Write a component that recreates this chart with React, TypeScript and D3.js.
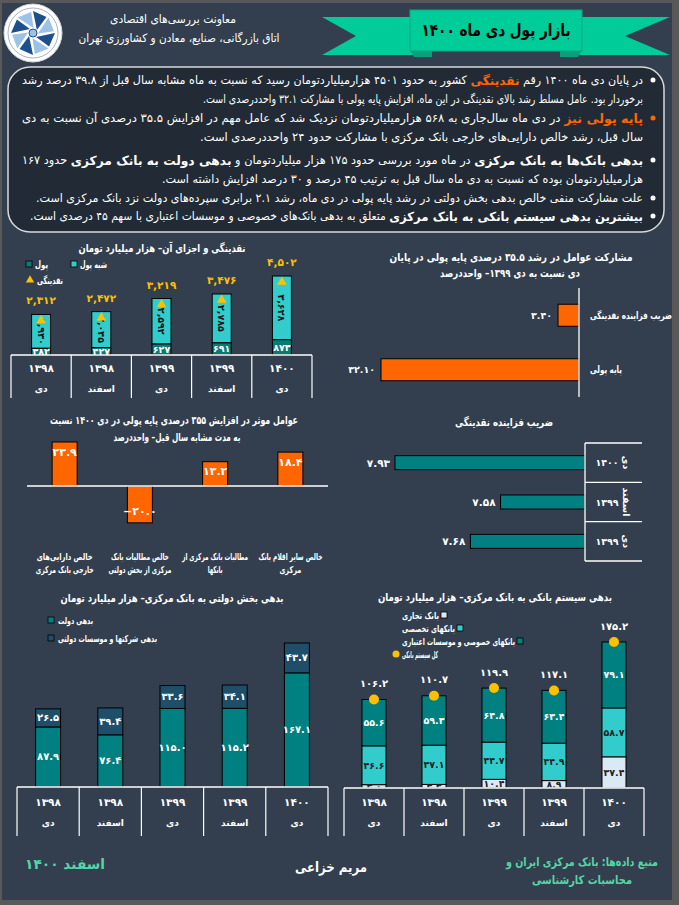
import React from 'react';
import * as d3 from 'd3';

const W = 679, H = 905;
const FONT = "'DejaVu Sans', sans-serif";

const OUTER = '#595959';
const PANEL = '#333F4F';
const BOX = '#222B35';
const ORANGE = '#FF6600';
const GOLD = '#FFC000';
const TEAL = '#008080';
const LTEAL = '#33CCCC';
const MONEY_C = '#0B7A75';
const GOVCO_C = '#1F4E69';
const COMM_C = '#DAE9F4';
const GREEN = '#00CC99';
const FOOT = '#55D6A6';

// ---------- data ----------
const years = [1398, 1398, 1399, 1399, 1400];
const months = ['دی', 'اسفند', 'دی', 'اسفند', 'دی'];

// liquidity and components (thousand billion toman)
const liquidityTotal = [2312, 2472, 3219, 3476, 4502];
const quasiMoney = [1930, 2045, 2592, 2785, 3628];
const money = [382, 427, 627, 691, 873];

// contribution to monetary base growth (percentage points)
const contribCats = ['ضریب فزاینده نقدینگی', 'پایه پولی'];
const contribVals = [3.4, 32.1];

// factors of monetary base growth
const factorCats = [
  ['خالص دارایی‌های', 'خارجی بانک مرکزی'],
  ['خالص مطالبات بانک', 'مرکزی از بخش دولتی'],
  ['مطالبات بانک مرکزی از', 'بانکها'],
  ['خالص سایر اقلام بانک', 'مرکزی'],
];
const factorVals = [23.9, -20.0, 13.2, 18.4];

// money multiplier
const multYears = [1400, 1399, 1399];
const multMonths = ['دی', 'اسفند', 'دی'];
const multVals = [7.93, 7.58, 7.68];

// public sector debt to central bank
const govDebt = [87.9, 76.4, 115.0, 115.2, 167.1];
const govCoDebt = [26.5, 39.4, 33.6, 34.1, 43.7];

// banking system debt to central bank
const commercialBanks = [4.0, 4.3, 10.4, 8.9, 37.4];
const specializedBanks = [46.6, 47.1, 44.7, 44.9, 58.7];
const privateBanks = [55.6, 59.3, 64.8, 63.4, 79.1];
const bankingTotal = [106.2, 110.7, 119.9, 117.1, 175.2];

// ---------- helpers ----------
const faDigits = '۰۱۲۳۴۵۶۷۸۹';
const fa = (s: string) => s.replace(/[0-9]/g, (d) => faDigits[+d]);
const fmtInt = (v: number) => fa(d3.format(',')(v));
const fmt1 = (v: number) => fa(d3.format('.1f')(v));
const fmt2 = (v: number) => fa(d3.format('.2f')(v));

function band(n: number, x0: number, x1: number, w: number) {
  const step = (x1 - x0) / n;
  const pi = 1 - w / step;
  return d3.scaleBand<number>().domain(d3.range(n)).range([x0, x1]).paddingInner(pi).paddingOuter(pi / 2);
}

type TP = {
  x: number; y: number; w?: number; anchor?: 'left' | 'right' | 'middle'; size?: number;
  bold?: boolean; fill?: string; rtl?: boolean; children: any; transform?: string;
};
function T({ x, y, w, anchor = 'middle', size = 10, bold = true, fill = '#fff', rtl = true, children, transform }: TP) {
  let ta = 'middle';
  if (anchor === 'left') ta = rtl ? 'end' : 'start';
  if (anchor === 'right') ta = rtl ? 'start' : 'end';
  return (
    <text x={x} y={y} fontSize={size} fontWeight={bold ? 'bold' : 'normal'} fill={fill}
      textAnchor={ta as any} textLength={w} lengthAdjust={w ? 'spacingAndGlyphs' : undefined}
      dominantBaseline="central" transform={transform}
      style={{ direction: rtl ? 'rtl' : 'ltr' }}>{children}</text>
  );
}

function CatTable({ x0, x1, n, y, bottom, yY, mY }: { x0: number; x1: number; n: number; y: number; bottom: number; yY: number; mY: number }) {
  const step = (x1 - x0) / n;
  return (
    <g>
      <line x1={x0} x2={x1} y1={y} y2={y} stroke="#fff" strokeWidth={1.5} />
      {d3.range(n + 1).map((i) => (
        <line key={i} x1={x0 + i * step} x2={x0 + i * step} y1={y} y2={bottom} stroke="#fff" strokeWidth={1.2} />
      ))}
      {d3.range(n).map((i) => (
        <g key={'l' + i}>
          <T x={x0 + (i + 0.5) * step} y={yY} size={10.5}>{fa(String(years[i]))}</T>
          <T x={x0 + (i + 0.5) * step} y={mY} size={9}>{months[i]}</T>
        </g>
      ))}
    </g>
  );
}

// ---------- header ----------
function Logo() {
  const cx = 33, cy = 33;
  const blades = d3.range(8).map((i) => {
    const a0 = (i * 45 - 90) * Math.PI / 180;
    const a1 = a0 + 40 * Math.PI / 180;
    const p = (r: number, a: number) => `${cx + r * Math.cos(a)},${cy + r * Math.sin(a)}`;
    return { pts: `${p(5, a0 + 0.9)} ${p(22, a0)} ${p(21, a1)}`, c: i % 2 ? '#9CC3E6' : '#1F4E8C' };
  });
  return (
    <g>
      <circle cx={cx} cy={cy} r={29} fill="#fff" stroke="#cfd8e0" />
      <circle cx={cx} cy={cy} r={25} fill="none" stroke="#7d93b5" strokeWidth={0.7} />
      {blades.map((b, i) => <polygon key={i} points={b.pts} fill={b.c} />)}
      <circle cx={cx} cy={cy} r={4} fill="#9CC3E6" stroke="#1F4E8C" strokeWidth={1} />
    </g>
  );
}

function Header() {
  return (
    <g>
      <Logo />
      <T x={173} y={19} w={126} size={11.5} bold={false}>معاونت بررسی‌های اقتصادی</T>
      <T x={179} y={38} w={201} size={11.5} bold={false}>اتاق بازرگانی، صنایع، معادن و کشاورزی تهران</T>
      <polygon points="322,17 420,17 420,55 322,55 356,36" fill={GREEN} />
      <polygon points="570,17 670,17 625,36 670,55 570,55" fill={GREEN} />
      <polygon points="410,50 432,50 432,57 414,57" fill="#08A07B" />
      <polygon points="560,50 582,50 578,57 560,57" fill="#08A07B" />
      <rect x={410} y={10} width={172} height={41} fill={GREEN} stroke="#0AA880" strokeWidth={1} />
      <T x={496} y={30} w={149} size={17} fill="#000">بازار پول دی ماه ۱۴۰۰</T>
    </g>
  );
}

// ---------- text box ----------
function TextBox() {
  const R = 643;
  const base = { fontSize: 11.5, fill: '#fff', dominantBaseline: 'central' as any, textAnchor: 'start' as any, lengthAdjust: 'spacingAndGlyphs' as any, style: { direction: 'rtl' as any } };
  const b = (s: string, c = '#fff') => <tspan fontWeight="bold" fontSize={12.5} fill={c}>{s}</tspan>;
  const line = (y: number, left: number, content: any) => (
    <text x={R} y={y} textLength={R - left} {...base}>{content}</text>
  );
  return (
    <g>
      <rect x={8} y={67} width={656} height={165} rx={22} fill={BOX} stroke="#d9d9d9" strokeWidth={1.5} />
      <circle cx={653} cy={80} r={2.5} fill="#fff" />
      <circle cx={653} cy={118} r={2.5} fill={ORANGE} />
      <circle cx={653} cy={160} r={2.5} fill="#fff" />
      <circle cx={653} cy={198} r={2.5} fill="#fff" />
      <circle cx={653} cy={216} r={2.5} fill="#fff" />
      {line(80, 22, <>در پایان دی ماه ۱۴۰۰ رقم {b('نقدینگی', ORANGE)} کشور به حدود ۴۵۰۱ هزارمیلیاردتومان رسید که نسبت به ماه مشابه سال قبل از ۳۹.۸ درصد رشد</>)}
      {line(99, 203, <>برخوردار بود. عامل مسلط رشد بالای نقدینگی در این ماه، افزایش پایه پولی با مشارکت ۳۲.۱ واحددرصدی است.</>)}
      {line(118, 22, <>{b('پایه پولی نیز', ORANGE)} در دی ماه سال‌جاری به ۵۶۸ هزارمیلیاردتومان نزدیک شد که عامل مهم در افزایش ۳۵.۵ درصدی آن نسبت به دی</>)}
      {line(137, 200, <>سال قبل، رشد خالص دارایی‌های خارجی بانک مرکزی با مشارکت حدود ۲۴ واحددرصدی است.</>)}
      {line(160, 22, <>{b('بدهی بانک‌ها به بانک مرکزی')} در ماه مورد بررسی حدود ۱۷۵ هزار میلیاردتومان و {b('بدهی دولت به بانک مرکزی')} حدود ۱۶۷</>)}
      {line(179, 162, <>هزارمیلیاردتومان بوده که نسبت به دی ماه سال قبل به ترتیب ۴۵ درصد و ۳۰ درصد افزایش داشته است.</>)}
      {line(198, 36, <>علت مشارکت منفی خالص بدهی بخش دولتی در رشد پایه پولی در دی ماه، رشد ۲.۱ برابری سپرده‌های دولت نزد بانک مرکزی است.</>)}
      {line(216, 30, <>{b('بیشترین بدهی سیستم بانکی به بانک مرکزی')} متعلق به بدهی بانک‌های خصوصی و موسسات اعتباری با سهم ۴۵ درصدی است.</>)}
    </g>
  );
}

// ---------- chart 1 ----------
function LiquidityChart() {
  const n = years.length;
  const x = band(n, 11, 312, 19);
  const base = 355;
  const y = d3.scaleLinear().domain([0, d3.max(liquidityTotal)!]).range([base, 276]);
  return (
    <g>
      <T x={162} y={248} w={167} size={11}>نقدینگی و اجزای آن– هزار میلیارد تومان</T>
      <rect x={26} y={261} width={6} height={6} fill={MONEY_C} stroke="#000" strokeWidth={0.8} />
      <T x={35} y={264} w={13} anchor="left" size={10}>پول</T>
      <rect x={71} y={261} width={6} height={6} fill={LTEAL} stroke="#000" strokeWidth={0.8} />
      <T x={80} y={264} w={27} anchor="left" size={10}>شبه پول</T>
      <path d={d3.symbol(d3.symbolTriangle, 30)()!} transform="translate(30,280)" fill={GOLD} />
      <T x={37} y={280} w={26} anchor="left" size={10}>نقدینگی</T>
      {years.map((_, i) => {
        const bx = x(i)!, bw = x.bandwidth(), cx = bx + bw / 2;
        const yM = y(money[i]);
        const yT = y(money[i] + quasiMoney[i]);
        const yL = y(liquidityTotal[i]);
        return (
          <g key={i}>
            <rect x={bx} y={yT} width={bw} height={yM - yT} fill={LTEAL} stroke="#000" strokeWidth={1} />
            <rect x={bx} y={yM} width={bw} height={base - yM} fill={MONEY_C} stroke="#000" strokeWidth={1} />
            <T x={0} y={0} size={9.5} fill="#111" rtl={false} transform={`translate(${cx},${(yT + yM) / 2}) rotate(90)`}>{fmtInt(quasiMoney[i])}</T>
            <T x={cx} y={(yM + base) / 2} size={9.5} rtl={false}>{fmtInt(money[i])}</T>
            <path d={d3.symbol(d3.symbolTriangle, 40)()!} transform={`translate(${cx},${yL + 6})`} fill={GOLD} />
            <T x={cx} y={yL - 14} size={10.5} fill={GOLD} rtl={false}>{fmtInt(liquidityTotal[i])}</T>
          </g>
        );
      })}
      <CatTable x0={11} x1={312} n={n} y={base} bottom={398} yY={368} mY={389} />
    </g>
  );
}

// ---------- chart 2 ----------
function ContribChart() {
  const axisX = 579;
  const x = d3.scaleLinear().domain([0, d3.max(contribVals)!]).range([axisX, 381]);
  const yb = band(contribCats.length, 288, 397, 22);
  return (
    <g>
      <T x={511} y={257} w={243} size={11}>مشارکت عوامل در رشد ۳۵.۵ درصدی پایه پولی در پایان</T>
      <T x={510} y={273} w={140} size={11}>دی نسبت به دی ۱۳۹۹– واحددرصد</T>
      {contribVals.map((v, i) => {
        const by = yb(i)!, bh = yb.bandwidth();
        return (
          <g key={i}>
            <rect x={x(v)} y={by} width={axisX - x(v)} height={bh} fill={ORANGE} stroke="#000" strokeWidth={1} />
            <T x={x(v) - 6} y={by + bh / 2} anchor="right" size={9.5} rtl={false}>{fmt2(v)}</T>
            <T x={590} y={by + bh / 2} anchor="left" size={10} w={i === 0 ? 82 : 32}>{contribCats[i]}</T>
          </g>
        );
      })}
      <line x1={axisX} x2={axisX} y1={288} y2={397} stroke="#fff" strokeWidth={1.3} />
    </g>
  );
}

// ---------- chart 3 ----------
function FactorChart() {
  const zero = 486;
  const x = band(factorVals.length, 27, 328, 25);
  const y = d3.scaleLinear().domain([0, 23.9]).range([zero, 442]);
  const widths = [[56, 58], [58, 63], [66, 15], [64, 22]];
  return (
    <g>
      <T x={174} y={420} w={248} size={11}>عوامل موثر در افزایش ۳۵۵ درصدی پایه پولی در دی ۱۴۰۰ نسبت</T>
      <T x={177} y={437} w={127} size={11}>به مدت مشابه سال قبل– واحددرصد</T>
      {factorVals.map((v, i) => {
        const bx = x(i)!, bw = x.bandwidth(), cx = bx + bw / 2;
        const y0 = Math.min(y(v), zero), h = Math.abs(y(v) - zero);
        return (
          <g key={i}>
            <rect x={bx} y={y0} width={bw} height={h} fill={ORANGE} stroke="#000" strokeWidth={1} />
            <T x={cx} y={v >= 0 ? y(v) + 10 : y(v) - 11} size={11} rtl={false}>{fmt1(v)}</T>
            <T x={cx} y={556} w={widths[i][0]} size={9.5}>{factorCats[i][0]}</T>
            <T x={cx} y={569} w={widths[i][1]} size={9.5}>{factorCats[i][1]}</T>
          </g>
        );
      })}
      <line x1={27} x2={328} y1={zero} y2={zero} stroke="#fff" strokeWidth={1.5} />
    </g>
  );
}

// ---------- chart 4 ----------
function MultiplierChart() {
  const axisX = 585;
  const x = d3.scaleLinear().domain([7.3, d3.max(multVals)!]).range([axisX, 395]);
  const yb = band(multVals.length, 443, 561, 14);
  const step = (561 - 443) / multVals.length;
  return (
    <g>
      <T x={504} y={422} w={98} size={11}>ضریب فزاینده نقدینگی</T>
      {multVals.map((v, i) => {
        const by = yb(i)!, bh = yb.bandwidth(), cy = by + bh / 2;
        const rowC = 443 + (i + 0.5) * step;
        return (
          <g key={i}>
            <rect x={x(v)} y={by} width={axisX - x(v)} height={bh} fill={TEAL} stroke="#000" strokeWidth={1} />
            <T x={x(v) - 5} y={cy} anchor="right" size={10.5} rtl={false}>{fmt2(v)}</T>
            <T x={607} y={rowC} size={9.5} rtl={false}>{fa(String(multYears[i]))}</T>
            <T x={0} y={0} size={9.5} transform={`translate(626,${rowC}) rotate(90)`}>{multMonths[i]}</T>
          </g>
        );
      })}
      <line x1={axisX} x2={axisX} y1={443} y2={561} stroke="#fff" strokeWidth={1.3} />
      {d3.range(multVals.length + 1).map((i) => (
        <line key={i} x1={axisX} x2={642} y1={443 + i * step} y2={443 + i * step} stroke="#fff" strokeWidth={1.3} />
      ))}
    </g>
  );
}

// ---------- chart 5 ----------
function GovDebtChart() {
  const n = years.length;
  const base = 787;
  const x = band(n, 17, 328, 25);
  const totals = govDebt.map((d, i) => d + govCoDebt[i]);
  const y = d3.scaleLinear().domain([0, d3.max(totals)!]).range([base, 643]);
  return (
    <g>
      <T x={172} y={598} w={223} size={11}>بدهی بخش دولتی به بانک مرکزی– هزار میلیارد تومان</T>
      <rect x={48} y={617} width={6} height={6} fill={TEAL} stroke="#000" strokeWidth={0.8} />
      <T x={58} y={620} w={35} anchor="left" size={9.5}>بدهی دولت</T>
      <rect x={48} y={635} width={6} height={6} fill={GOVCO_C} stroke="#000" strokeWidth={0.8} />
      <T x={58} y={638} w={99} anchor="left" size={9.5}>بدهی شرکتها و موسسات دولتی</T>
      {years.map((_, i) => {
        const bx = x(i)!, bw = x.bandwidth(), cx = bx + bw / 2;
        const yG = y(govDebt[i]);
        const yT = y(totals[i]);
        return (
          <g key={i}>
            <rect x={bx} y={yG} width={bw} height={base - yG} fill={TEAL} stroke="#000" strokeWidth={1} />
            <rect x={bx} y={yT} width={bw} height={yG - yT} fill={GOVCO_C} stroke="#000" strokeWidth={1} />
            <T x={cx} y={(yG + base) / 2} size={10} rtl={false}>{fmt1(govDebt[i])}</T>
            <T x={cx} y={(yT + yG) / 2} size={10} rtl={false}>{fmt1(govCoDebt[i])}</T>
          </g>
        );
      })}
      <CatTable x0={17} x1={328} n={n} y={base} bottom={836} yY={802} mY={823} />
    </g>
  );
}

// ---------- chart 6 ----------
function BankDebtChart() {
  const n = years.length;
  const base = 788;
  const x = band(n, 344, 644, 24);
  const y = d3.scaleLinear().domain([0, d3.max(bankingTotal)!]).range([base, 642]);
  return (
    <g>
      <defs>
        <clipPath id="plot6"><rect x={340} y={600} width={332} height={base - 600} /></clipPath>
      </defs>
      <T x={495} y={597} w={234} size={11}>بدهی سیستم بانکی به بانک مرکزی– هزار میلیارد تومان</T>
      <T x={402} y={615} w={37} anchor="left" size={9.5}>بانک تجاری</T>
      <rect x={441} y={612} width={6} height={6} fill={COMM_C} stroke="#000" strokeWidth={0.8} />
      <T x={402} y={628} w={53} anchor="left" size={9.5}>بانکهای تخصصی</T>
      <rect x={457} y={625} width={6} height={6} fill={LTEAL} stroke="#000" strokeWidth={0.8} />
      <T x={402} y={641} w={113} anchor="left" size={9.5}>بانکهای خصوصی و موسسات اعتباری</T>
      <rect x={517} y={638} width={6} height={6} fill={TEAL} stroke="#000" strokeWidth={0.8} />
      <circle cx={396} cy={654} r={3.5} fill={GOLD} />
      <T x={402} y={654} w={36} anchor="left" size={9.5}>کل سیستم بانکی</T>
      {years.map((_, i) => {
        const bx = x(i)!, bw = x.bandwidth(), cx = bx + bw / 2;
        const y1 = y(commercialBanks[i]);
        const y2 = y(commercialBanks[i] + specializedBanks[i]);
        const y3 = y(commercialBanks[i] + specializedBanks[i] + privateBanks[i]);
        const yt = y(bankingTotal[i]);
        return (
          <g key={i}>
            <rect x={bx} y={y1} width={bw} height={base - y1} fill={COMM_C} stroke="#000" strokeWidth={1} />
            <rect x={bx} y={y2} width={bw} height={y1 - y2} fill={LTEAL} stroke="#000" strokeWidth={1} />
            <rect x={bx} y={y3} width={bw} height={y2 - y3} fill={TEAL} stroke="#000" strokeWidth={1} />
            <g clipPath="url(#plot6)">
              <T x={cx} y={(y1 + base) / 2} size={9.5} fill="#222" rtl={false}>{fmt1(commercialBanks[i])}</T>
            </g>
            <T x={cx} y={(y2 + y1) / 2} size={9.5} fill="#222" rtl={false}>{fmt1(specializedBanks[i])}</T>
            <T x={cx} y={(y3 + y2) / 2} size={9.5} rtl={false}>{fmt1(privateBanks[i])}</T>
            <circle cx={cx} cy={yt} r={5} fill={GOLD} />
            <T x={cx} y={yt - 16} size={10} rtl={false}>{fmt1(bankingTotal[i])}</T>
          </g>
        );
      })}
      <CatTable x0={344} x1={644} n={n} y={base} bottom={836} yY={802} mY={823} />
    </g>
  );
}

function Footer() {
  return (
    <g>
      <T x={65} y={864} w={80} size={14} fill={FOOT}>اسفند  ۱۴۰۰</T>
      <T x={331} y={867} w={72} size={14}>مریم خزاعی</T>
      <T x={582} y={862} w={152} size={12} fill={FOOT}>منبع داده‌ها: بانک مرکزی ایران و</T>
      <T x={582} y={880} w={100} size={12} fill={FOOT}>محاسبات کارشناسی</T>
    </g>
  );
}

export default function App() {
  return (
    <svg width={W} height={H} style={{ position: 'absolute', left: 0, top: 0, fontFamily: FONT }}>
      <rect width={W} height={H} fill={OUTER} />
      <rect x={2} y={3} width={670} height={897} fill={PANEL} />
      <Header />
      <TextBox />
      <LiquidityChart />
      <ContribChart />
      <FactorChart />
      <MultiplierChart />
      <GovDebtChart />
      <BankDebtChart />
      <Footer />
      <rect x={672} y={0} width={7} height={H} fill={OUTER} />
      <rect x={0} y={900} width={W} height={5} fill={OUTER} />
    </svg>
  );
}
